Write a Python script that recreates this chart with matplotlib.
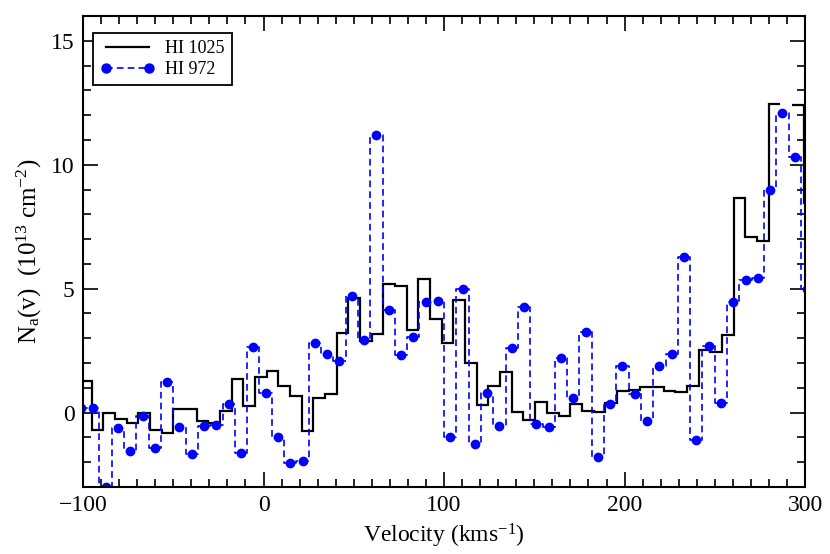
import numpy as np
import matplotlib
matplotlib.use("Agg")
import matplotlib.pyplot as plt
from matplotlib.lines import Line2D
from matplotlib.ticker import MultipleLocator

# HI 1025 apparent column density per pixel (10^13 cm^-2), NaN = bad pixel
n_1025 = [1.27, -0.69, -0.03, -0.24, -0.40, -0.01, -0.69, -0.84, 0.15, 0.15,
          -0.32, -0.40, 0.08, 1.36, 0.27, 1.42, 1.66, 1.09, 0.69, -0.76,
          0.58, 0.76, 3.23, 4.64, 2.89, 3.19, 5.18, 5.12, 3.32, 5.39,
          3.79, 2.81, 4.54, 2.00, 0.31, 1.09, 1.63, 0.01, -0.28, 0.43,
          -0.03, -0.15, 0.36, 0.08, 0.03, 0.40, 0.86, 0.92, 1.03, 1.02,
          0.89, 0.82, 1.09, 2.54, 2.44, 3.12, 8.65, 7.07, 6.94, 12.47,
          np.nan, 12.43, 8.45]
# HI 972
n_972 = [0.19, 0.19, -3.00, -0.62, -1.54, -0.12, -1.43, 1.23, -0.57, -1.65,
         -0.54, -0.49, 0.35, -1.61, 2.63, 0.79, -1.00, -2.05, -1.97, 2.81,
         2.38, 2.08, 4.71, 2.92, 11.19, 4.13, 2.32, 3.05, 4.47, 4.49,
         -1.00, 4.99, -1.27, 0.81, -0.53, 2.60, 4.27, -0.46, -0.57, 2.21,
         0.59, 3.24, -1.81, 0.34, 1.90, 0.76, -0.34, 1.90, 2.35, 6.28,
         -1.11, 2.67, 0.38, 4.47, 5.37, 5.43, 8.99, 12.07, 10.32, 5.00]

# velocity grids (km/s): first bin edge / first pixel centre and pixel width
edge0_1025, dv_1025 = -101.66, 6.465
v0_972, dv_972 = -101.1, 6.817

edges_1025 = edge0_1025 + dv_1025 * np.arange(len(n_1025) + 1)
v_972 = v0_972 + dv_972 * np.arange(len(n_972))

plt.rcParams['font.family'] = ['Liberation Serif', 'DejaVu Serif']
plt.rcParams['mathtext.fontset'] = 'custom'
plt.rcParams['mathtext.rm'] = 'Liberation Serif'
plt.rcParams['mathtext.it'] = 'Liberation Serif:italic'

fig = plt.figure(figsize=(8.3, 5.54), dpi=100)
ax = fig.add_axes([0.1, 0.121, 0.87, 0.85])

blue = '#0000ff'
ax.stairs(n_1025, edges_1025, color='black', lw=1.6, baseline=None)
ax.plot(v_972, n_972, drawstyle='steps-mid', ls=(0, (4, 2.5)), lw=1.2,
        color=blue, marker='o', ms=6, mec=blue)

ax.set_xlim(-100, 300)
ax.set_ylim(-3, 16)

ax.xaxis.set_major_locator(MultipleLocator(100))
ax.xaxis.set_minor_locator(MultipleLocator(10))
ax.yaxis.set_major_locator(MultipleLocator(5))
ax.yaxis.set_minor_locator(MultipleLocator(1))
ax.tick_params(which='both', direction='in', top=True, right=True, width=1.2,
               labelsize=17)
ax.tick_params(which='major', length=11, pad=6)
ax.tick_params(which='minor', length=6)
for s in ax.spines.values():
    s.set_linewidth(1.5)

ax.set_xlabel(r'Velocity (kms$^{-1}$)', fontsize=17, labelpad=4)
ax.set_ylabel(r'N$_{\mathrm{a}}$(v)  (10$^{13}$ cm$^{-2}$)', fontsize=18, labelpad=5)

handles = [Line2D([], [], color='black', lw=1.6),
           Line2D([], [], color=blue, ls=(0, (4, 2.5)), lw=1.2,
                  marker='o', ms=6.5)]
leg = ax.legend(handles, ['HI 1025', 'HI 972'], loc='upper left',
                bbox_to_anchor=(0.014, 0.964), borderaxespad=0, fontsize=13,
                numpoints=2, handlelength=3.0, fancybox=False, framealpha=1,
                edgecolor='black', labelspacing=0.2, handletextpad=0.6,
                borderpad=0.4)
leg.get_frame().set_linewidth(1.3)

fig.savefig('out.png', dpi=100)
